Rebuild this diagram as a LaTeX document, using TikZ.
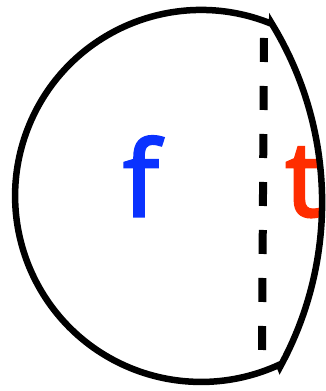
\documentclass[tikz,border=0pt]{standalone}
\usepackage{fontspec}
\setmainfont{Open Sans}
\newfontfamily\lblfont{Open Sans}[FakeBold=3]
\definecolor{fblue}{RGB}{10,50,255}
\definecolor{tred}{RGB}{255,45,0}
\begin{document}
\begin{tikzpicture}[x=1pt,y=1pt,
  outline/.style={line width=6.5pt,line join=miter},
  cutline/.style={line width=8pt,dash pattern=on 24pt off 24pt},
  lbl/.style={anchor=base,inner sep=0pt,font=\lblfont\fontsize{104}{104}\selectfont}]
\useasboundingbox (0,0) rectangle (326,391);
\node[lbl,text=fblue] (f) at (141,175) {f};
\node[lbl,text=tred] (t) at (304,175) {t};
\coordinate (A) at (272,367);
\coordinate (B) at (280,24);
\draw[outline] (A) arc[start angle=67.6,end angle=294.8,radius=186] -- (B)
  arc[start angle=-28.7,end angle=31.37,radius=342.8] -- cycle;
\coordinate (d1) at (264,353);
\coordinate (d2) at (262,41);
\draw[cutline] (d1) -- (d2);
\end{tikzpicture}
\end{document}
